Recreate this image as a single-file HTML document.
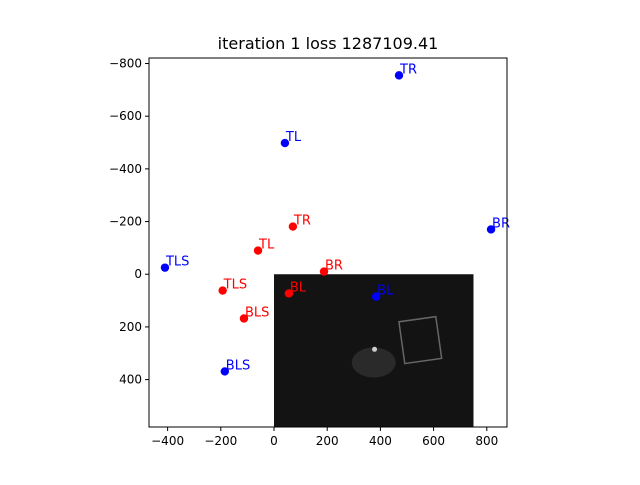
<!DOCTYPE html>
<html><head><meta charset="utf-8"><style>
body{margin:0;background:#fff;}
svg text{font-family:"DejaVu Sans","Liberation Sans",sans-serif;}
</style></head><body>
<svg id="chart" width="640" height="480" xmlns="http://www.w3.org/2000/svg">
<rect width="640" height="480" fill="#fff"/>
<text x="328" y="49" font-size="16" text-anchor="middle">iteration 1 loss 1287109.41</text>
<g id="img"></g>
<g id="ticks"></g>
<g id="marks"></g>
<rect x="149" y="58" width="358" height="369" fill="none" stroke="#000" stroke-width="1"/>
</svg>
<script>
const xTicks=[-400,-200,0,200,400,600,800];
const yTicks=[-800,-600,-400,-200,0,200,400];
const labels=["TR","TL","BR","TLS","BL","BLS"];
const blueX=[470,41,816,-410,384,-185];
const blueY=[-755,-498,-170,-25,85,369];
const redX=[71,-60,188,-193,56,-113];
const redY=[-181,-90,-10,62,73,168];
const xMin=-470,xMax=876,yMin=-821,yMax=580;
const L=149,R=507,T=58,B=427;
function sx(v){return L+(v-xMin)/(xMax-xMin)*(R-L);}
function sy(v){return T+(v-yMin)/(yMax-yMin)*(B-T);}
const NS="http://www.w3.org/2000/svg";
function mk(tag,attrs,parent){const e=document.createElementNS(NS,tag);for(const k in attrs)e.setAttribute(k,attrs[k]);parent.appendChild(e);return e;}
const img=document.getElementById('img');
let r=mk('rect',{x:sx(0),y:sy(0),width:sx(750)-sx(0),height:B-sy(0),fill:'#131313'},img);


let o=mk('rect',{x:sx(480),y:sy(170),width:sx(620)-sx(480),height:sy(330)-sy(170),fill:'none',stroke:'#666','stroke-width':1.5,transform:'rotate(-8 '+sx(550)+' '+sy(250)+')'},img);


let bl=mk('ellipse',{cx:sx(375),cy:sy(335),rx:22,ry:15,fill:'#2a2a2a'},img);


let hl=mk('circle',{cx:sx(378),cy:sy(285),r:2.5,fill:'#ccc'},img);


const tg=document.getElementById('ticks');
xTicks.forEach(v=>{
 const x=sx(v);
 const l=mk('line',{x1:x,x2:x,y1:B,y2:B+4,stroke:'#000'},tg);
 
 
 const t=mk('text',{x:x,y:B+18,'font-size':12,'text-anchor':'middle'},tg);
 t.textContent=String(v).replace('-','\u2212');
 
 
});
yTicks.forEach(v=>{
 const y=sy(v);
 const l=mk('line',{x1:L-4,x2:L,y1:y,y2:y,stroke:'#000'},tg);
 
 
 const t=mk('text',{x:L-7,y:y+4,'font-size':12,'text-anchor':'end'},tg);
 t.textContent=String(v).replace('-','\u2212');
 
 
});
const mg=document.getElementById('marks');
function series(xs,ys,col,name){
 xs.forEach((v,i)=>{
  const c=mk('circle',{cx:sx(v),cy:sy(ys[i]),r:4.2,fill:col},mg);
  
  
  const t=mk('text',{x:sx(v)+1,y:sy(ys[i])-2,'font-size':13,fill:col},mg);
  t.textContent=labels[i];
  
  
 });
}
series(blueX,blueY,'#0000ff','blue');
series(redX,redY,'#ff0000','red');
</script>
</body></html>
